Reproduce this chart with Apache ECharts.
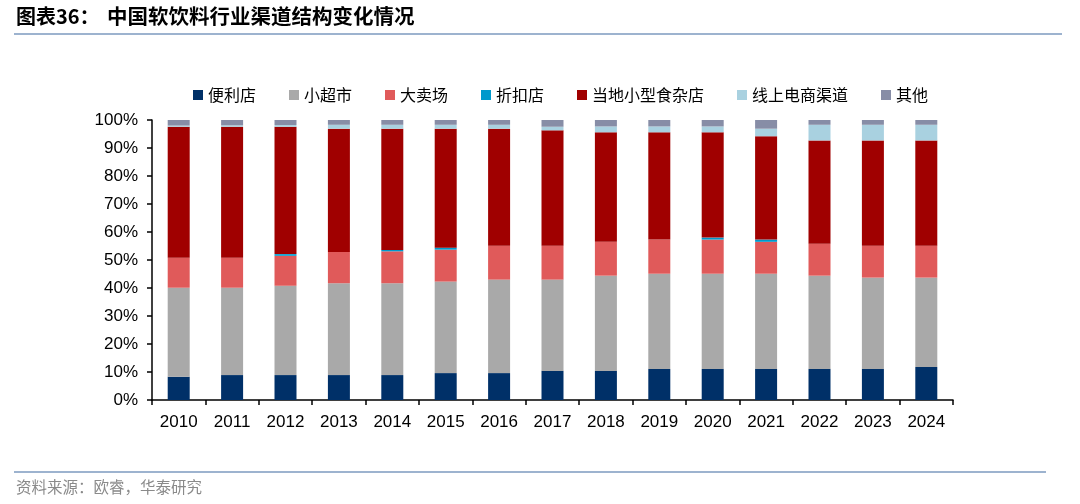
<!DOCTYPE html>
<html>
<head>
<meta charset="utf-8">
<script src="https://cdn.jsdelivr.net/npm/echarts@6/dist/echarts.min.js"></script>
<style>
html,body{margin:0;padding:0;background:#fff;}
#c{width:1080px;height:504px;}
</style>
</head>
<body>
<div id="c"></div>
<script>
var categories = ['2010','2011','2012','2013','2014','2015','2016','2017','2018','2019','2020','2021','2022','2023','2024'];
var seriesNames = ['便利店','小超市','大卖场','折扣店','当地小型食杂店','线上电商渠道','其他'];
var convenience = [8.3, 8.9, 8.9, 8.9, 8.9, 9.6, 9.6, 10.4, 10.4, 11.1, 11.1, 11.1, 11.1, 11.1, 11.8];
var smallSuper  = [31.8, 31.2, 31.9, 32.8, 32.8, 32.7, 33.4, 32.6, 34.0, 34.0, 34.0, 34.0, 33.3, 32.6, 31.9];
var hypermarket = [10.7, 10.7, 10.7, 11.2, 11.4, 11.4, 12.1, 12.1, 12.1, 12.2, 12.2, 11.4, 11.4, 11.4, 11.4];
var discount    = [0, 0, 0.6, 0, 0.5, 0.7, 0, 0, 0, 0, 0.7, 0.8, 0, 0, 0];
var localGrocery= [46.8, 46.8, 45.5, 44.0, 43.3, 42.5, 41.8, 41.2, 39.1, 38.3, 37.6, 36.9, 36.9, 37.6, 37.6];
var online      = [0.4, 0.5, 0.6, 1.4, 1.4, 1.4, 1.4, 1.3, 2.1, 2.1, 2.1, 2.7, 5.6, 5.6, 5.6];
var other       = [2.0, 1.9, 1.8, 1.7, 1.7, 1.7, 1.7, 2.4, 2.3, 2.3, 2.3, 3.1, 1.7, 1.7, 1.7];
var yTicks = [0,10,20,30,40,50,60,70,80,90,100];

var colors = ['#003068','#A9A9A9','#E05A5A','#0099CC','#A00000','#A9D1E0','#878DA6'];
var dataList = [convenience, smallSuper, hypermarket, discount, localGrocery, online, other];

var chart = echarts.init(document.getElementById('c'));
var series = seriesNames.map(function(n, i){
  return {
    name: n, type: 'bar', stack: 'total', barWidth: 22,
    itemStyle: {color: colors[i]},
    data: dataList[i]
  };
});
var lineColor = '#9DB3CF';
chart.setOption({
  animation: false,
  color: colors,
  grid: {left: 152, right: 127, top: 120, bottom: 104},
  legend: {
    data: seriesNames, left: 188, top: 82,
    itemWidth: 10, itemHeight: 10, itemGap: 33,
    icon: 'rect',
    textStyle: {fontFamily: 'Noto Sans CJK SC', fontSize: 16, color: '#000'}
  },
  xAxis: {
    type: 'category', data: categories,
    axisLine: {lineStyle: {color: '#000', width: 1.5}},
    axisTick: {show: true, length: 5, lineStyle: {color: '#000', width: 1.5}},
    axisLabel: {color: '#000', fontSize: 17, fontFamily: 'Liberation Sans', margin: 14}
  },
  yAxis: {
    type: 'value', min: 0, max: 100, interval: 10,
    axisLine: {show: true, lineStyle: {color: '#000', width: 1.5}},
    axisTick: {show: true, length: 5, lineStyle: {color: '#000', width: 1.5}},
    splitLine: {show: false},
    axisLabel: {color: '#000', fontSize: 17, fontFamily: 'Liberation Sans', margin: 14,
      formatter: function(v){ return yTicks.indexOf(v) >= 0 ? v + '%' : ''; }}
  },
  graphic: [
    {type: 'text', left: 16, top: 6, style: {text: '图表36：', fontSize: 20, fontWeight: 'bold', fontFamily: 'Noto Sans CJK SC', fill: '#000'}},
    {type: 'text', left: 107, top: 6, style: {text: '中国软饮料行业渠道结构变化情况', fontSize: 20.5, fontWeight: 'bold', fontFamily: 'Noto Sans CJK SC', fill: '#000'}},
    {type: 'rect', shape: {x: 14, y: 33, width: 1048, height: 2}, style: {fill: lineColor}},
    {type: 'rect', shape: {x: 14, y: 471, width: 1032, height: 2}, style: {fill: lineColor}},
    {type: 'text', left: 16, top: 479, style: {text: '资料来源：欧睿，华泰研究', fontSize: 15.5, fontFamily: 'Noto Sans CJK SC', fill: '#8A8A8A'}}
  ],
  series: series
});
</script>
</body>
</html>
